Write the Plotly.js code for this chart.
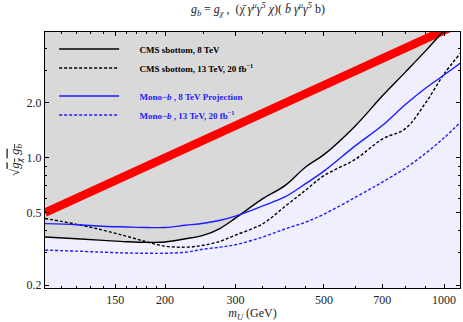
<!DOCTYPE html>
<html>
<head>
<meta charset="utf-8">
<script src="https://cdn.plot.ly/plotly-3.0.1.min.js"></script>
<style>
  html, body { margin: 0; padding: 0; background: #fff; }
  #chart { width: 463px; height: 322px; }
</style>
</head>
<body>
<div id="chart"></div>
<script>
// mediator mass grid (GeV)
const mass = [100, 120, 140, 160, 180, 200, 225, 250, 275, 300, 350, 400, 450, 500, 600, 700, 800, 900, 1000, 1100];

// limits on sqrt(g_chi g_b)
const cms8 = [0.367, 0.359, 0.352, 0.346, 0.343, 0.345, 0.359, 0.376, 0.41, 0.466, 0.592, 0.705, 0.89, 1.04, 1.5, 2.18, 2.95, 3.87, 5.0, 6.3];
const cms13 = [0.464, 0.431, 0.4, 0.371, 0.345, 0.327, 0.323, 0.331, 0.348, 0.376, 0.432, 0.542, 0.664, 0.797, 0.982, 1.265, 1.445, 2.007, 2.88, 3.75];
const monob8 = [0.435, 0.429, 0.421, 0.417, 0.414, 0.414, 0.426, 0.437, 0.454, 0.478, 0.542, 0.611, 0.721, 0.844, 1.165, 1.501, 1.957, 2.412, 2.843, 3.309];
const monob13 = [0.311, 0.307, 0.303, 0.300, 0.299, 0.299, 0.303, 0.315, 0.323, 0.333, 0.366, 0.407, 0.443, 0.49, 0.607, 0.734, 0.877, 1.06, 1.286, 1.569];

// red band
const bandMass = [100, 1100];
const bandG = [0.5, 5.5];

const topEdge = mass.map(() => 20);

const blue = '#1c1cff';
const serif = 'Liberation Serif, Times New Roman, serif';
const pad = '\u2003\u2002\u2009';

const traces = [
    { x: mass, y: topEdge, mode: 'lines', line: { width: 0 }, showlegend: false, hoverinfo: 'skip' },
    { x: mass, y: cms8, mode: 'lines', fill: 'tonexty', fillcolor: '#d9d9d9', line: { width: 0, shape: 'spline' }, showlegend: false, hoverinfo: 'skip' },
    { x: bandMass, y: bandG, mode: 'lines', line: { color: '#ff0000', width: 8.5 }, showlegend: false },
    { x: mass, y: cms8, mode: 'lines', name: pad + 'CMS sbottom, 8 TeV', legendgroup: 'a',
      line: { color: '#000', width: 1.4, shape: 'spline' } },
    { x: mass, y: cms13, mode: 'lines', name: pad + 'CMS sbottom, 13 TeV, 20 fb<sup>−1</sup>', legendgroup: 'a',
      line: { color: '#000', width: 1.4, dash: '3px,2px', shape: 'spline' } },
    { x: mass, y: monob8, mode: 'lines', name: pad + '<span style="color:' + blue + '">Mono−<i>b</i> , 8 TeV Projection</span>', legendgroup: 'b',
      line: { color: blue, width: 1.4, shape: 'spline' } },
    { x: mass, y: monob13, mode: 'lines', name: pad + '<span style="color:' + blue + '">Mono−<i>b</i> , 13 TeV, 20 fb<sup>−1</sup></span>', legendgroup: 'b',
      line: { color: blue, width: 1.4, dash: '3px,2px', shape: 'spline' } }
];

const layout = {
    width: 463,
    height: 322,
    margin: { l: 45, r: 3, t: 32, b: 34 },
    paper_bgcolor: '#fff',
    plot_bgcolor: '#efeffe',
    font: { family: serif, size: 12, color: '#222' },
    title: {
        text: '<i>g<sub>b</sub></i> = <i>g<sub>χ</sub></i> ,  (χ̄ <i>γ<sup>μ</sup>γ<sup>5</sup> χ</i>)( <i>b̄</i> <i>γ<sup>μ</sup>γ<sup>5</sup></i> b)',
        font: { family: serif, size: 12, color: '#222' },
        x: 0.557, xanchor: 'center', y: 0.972, yanchor: 'middle'
    },
    showlegend: true,
    legend: {
        x: 0.022, y: 0.99, xanchor: 'left', yanchor: 'top',
        bgcolor: 'rgba(0,0,0,0)',
        font: { family: serif, size: 9, color: '#000', weight: 'bold' },
        traceorder: 'grouped', tracegroupgap: 9, itemwidth: 60
    },
    xaxis: {
        type: 'log', range: [2, 3.04],
        title: { text: '<i>m<sub>U</sub></i> (GeV)', font: { family: serif, size: 12 }, standoff: 5 },
        tickvals: [150, 200, 300, 500, 700, 1000],
        ticktext: ['150', '200', '300', '500', '700', '1000'],
        ticks: 'inside', ticklen: 4, tickcolor: '#000',
        minor: { tickvals: [110, 120, 130, 140, 160, 170, 180, 190, 250, 350, 400, 450, 600, 800, 900], ticks: 'inside', ticklen: 2, tickcolor: '#000' },
        showline: true, linecolor: '#000', linewidth: 1.2, mirror: 'ticks',
        showgrid: false, zeroline: false
    },
    yaxis: {
        type: 'log', range: [-0.715, 0.69],
        title: { text: '√<span style="text-decoration:overline"><i>g<sub>χ</sub> g<sub>b</sub></i></span>', font: { family: serif, size: 13 }, standoff: 3 },
        tickvals: [0.2, 0.5, 1, 2],
        ticktext: ['0.2', '0.5', '1.0', '2.0'],
        ticks: 'inside', ticklen: 4, tickcolor: '#000',
        minor: { tickvals: [0.3, 0.4, 0.6, 0.7, 0.8, 0.9, 3, 4], ticks: 'inside', ticklen: 2, tickcolor: '#000' },
        showline: true, linecolor: '#000', linewidth: 1.2, mirror: 'ticks',
        showgrid: false, zeroline: false
    }
};

Plotly.newPlot('chart', traces, layout, { displayModeBar: false, staticPlot: true });
</script>
</body>
</html>
